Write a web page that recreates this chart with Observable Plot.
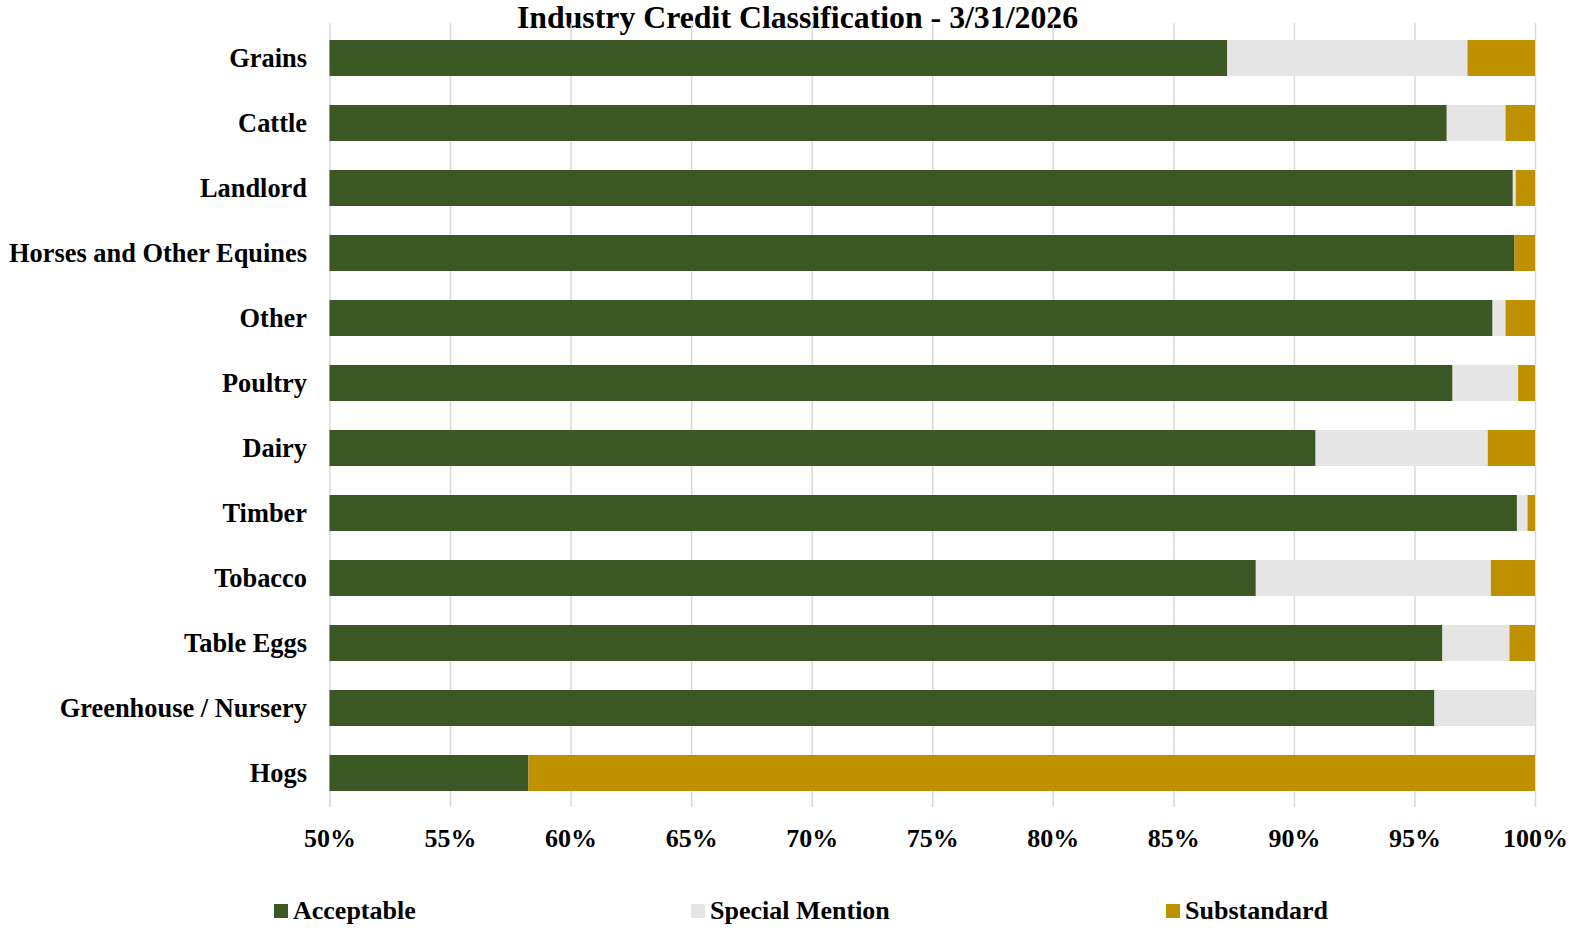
<!DOCTYPE html>
<html>
<head>
<meta charset="utf-8">
<script src="https://cdn.jsdelivr.net/npm/d3@7"></script>
<script src="https://cdn.jsdelivr.net/npm/@observablehq/plot@0.6"></script>
<style>
  html, body { margin: 0; padding: 0; background: #fff; }
  #wrap { position: relative; width: 1569px; height: 931px; font-family: "Liberation Serif", "Times New Roman", serif; font-weight: bold; color: #000; }
  #title { position: absolute; top: 0px; left: 797.5px; transform: translateX(-50%); font-size: 31.8px; line-height: 36px; white-space: nowrap; }
  #chart { position: absolute; top: 0; left: 0; }
  .leg { position: absolute; top: 896px; font-size: 26px; line-height: 30px; white-space: nowrap; display: flex; align-items: center; }
  .sw { display: inline-block; width: 14px; height: 14px; margin-right: 5px; }
</style>
</head>
<body>
<div id="wrap">
  <div id="title">Industry Credit Classification - 3/31/2026</div>
  <div id="chart"></div>
  <div id="legend"></div>
</div>
<script>
const categories = ["Grains", "Cattle", "Landlord", "Horses and Other Equines", "Other", "Poultry", "Dairy", "Timber", "Tobacco", "Table Eggs", "Greenhouse / Nursery", "Hogs"];
const acceptable =     [87.24, 96.34, 99.08, 99.15, 98.24, 96.58, 90.90, 99.25, 88.42, 96.16, 95.83, 58.25];
const specialMention = [ 9.96,  2.44,  0.12,  0.00,  0.54,  2.72,  7.14,  0.44,  9.75,  2.78,  4.17,  0.00];
const substandard =    [ 2.80,  1.22,  0.80,  0.85,  1.22,  0.70,  1.96,  0.31,  1.83,  1.06,  0.00, 41.75];
const seriesNames = ["Acceptable", "Special Mention", "Substandard"];
const seriesColors = ["#3B5723", "#E5E5E5", "#BF9000"];
const xTicks = [50, 55, 60, 65, 70, 75, 80, 85, 90, 95, 100];

const seriesValues = [acceptable, specialMention, substandard];
const data = [];
categories.forEach((c, i) => {
  seriesNames.forEach((s, j) => {
    data.push({category: c, series: s, value: seriesValues[j][i]});
  });
});

const chart = Plot.plot({
  width: 1569,
  height: 870,
  marginLeft: 329.5,
  marginRight: 34,
  marginTop: 23.3,
  marginBottom: 63,
  style: {fontFamily: '"Liberation Serif", "Times New Roman", serif', fontWeight: "bold", color: "#000", background: "transparent"},
  x: {domain: [50, 100], ticks: xTicks, tickFormat: d => d + "%"},
  y: {domain: categories, paddingInner: 0.45, paddingOuter: 0.225},
  color: {domain: seriesNames, range: seriesColors},
  marks: [
    Plot.gridX(xTicks, {stroke: "#d9d9d9", strokeOpacity: 1, strokeWidth: 1.5}),
    Plot.barX(data, Plot.stackX({y: "category", x: "value", fill: "series", order: null, clip: true})),
    Plot.axisX({ticks: xTicks, tickFormat: d => d + "%", tickSize: 0, tickPadding: 21, fontSize: 26, fontWeight: "bold", label: null}),
    Plot.axisY({tickSize: 0, tickPadding: 23, fontSize: 26.4, fontWeight: "bold", label: null})
  ]
});
document.getElementById("chart").appendChild(chart);

const legendLefts = [274, 691, 1166];
const legend = document.getElementById("legend");
seriesNames.forEach((s, i) => {
  const d = document.createElement("div");
  d.className = "leg";
  d.style.left = legendLefts[i] + "px";
  const sw = document.createElement("span");
  sw.className = "sw";
  sw.style.background = seriesColors[i];
  d.appendChild(sw);
  d.appendChild(document.createTextNode(s));
  legend.appendChild(d);
});
</script>
</body>
</html>
